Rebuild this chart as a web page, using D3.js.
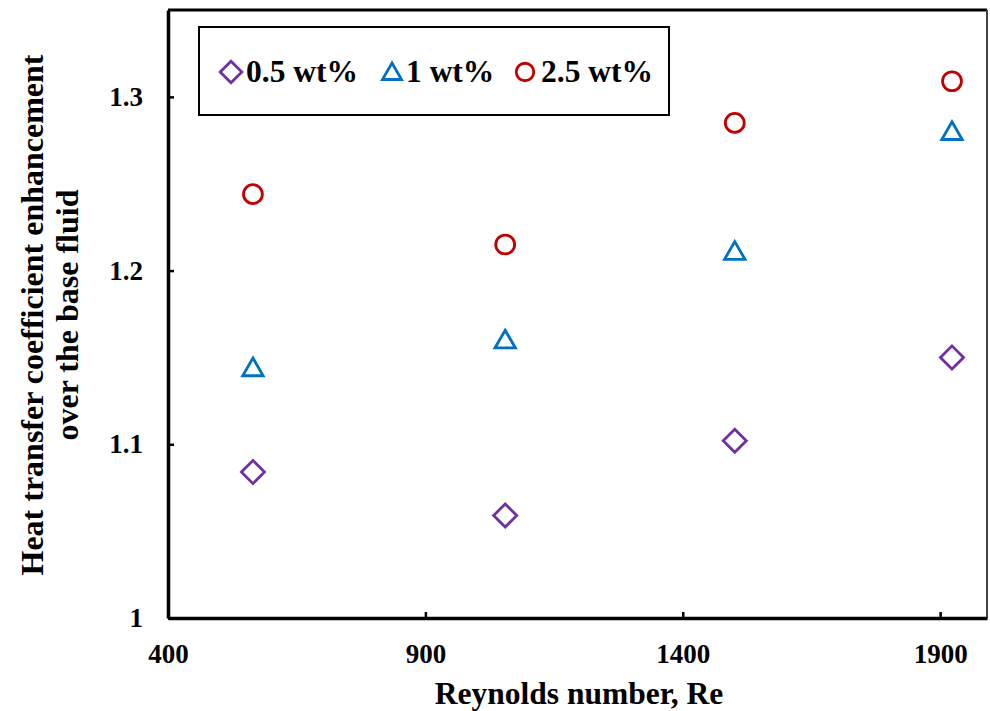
<!DOCTYPE html>
<html>
<head>
<meta charset="utf-8">
<script src="https://cdn.jsdelivr.net/npm/d3@7/dist/d3.min.js"></script>
<style>
  html, body { margin: 0; padding: 0; background: #fff; }
  svg { display: block; }
  text { font-family: "Liberation Serif", "Times New Roman", serif; font-weight: bold; fill: #000; }
</style>
</head>
<body>
<script>
const reynolds = [565, 1055, 1501, 1923];
const seriesNames = ["0.5 wt%", "1 wt%", "2.5 wt%"];
const wt05 = [1.084, 1.059, 1.102, 1.150];
const wt1 = [1.144, 1.160, 1.211, 1.280];
const wt25 = [1.244, 1.215, 1.285, 1.309];
const xTicks = [400, 900, 1400, 1900];
const yTicks = [1, 1.1, 1.2, 1.3];
const yTickLabels = ["1", "1.1", "1.2", "1.3"];

const W = 990, H = 711;
const pLeft = 168, pRight = 987, pTop = 10, pBottom = 618;

const svg = d3.select("body").append("svg").attr("width", W).attr("height", H);

const x = d3.scaleLinear().domain([400, 1991]).range([pLeft, pRight]);
const y = d3.scaleLinear().domain([1, 1.35]).range([pBottom, pTop]);

// frame
svg.append("line").attr("x1", pLeft).attr("x2", pRight).attr("y1", pTop).attr("y2", pTop)
  .attr("stroke", "#000").attr("stroke-width", 3);
svg.append("line").attr("x1", pRight).attr("x2", pRight).attr("y1", pTop).attr("y2", pBottom)
  .attr("stroke", "#444").attr("stroke-width", 2);

// axes
const xAxis = d3.axisBottom(x).tickValues(xTicks).tickSizeInner(-6).tickSizeOuter(0).tickPadding(26)
  .tickFormat(d3.format("d"));
const gx = svg.append("g").attr("transform", `translate(0,${pBottom})`).call(xAxis);
gx.select(".domain").attr("stroke", "#000").attr("stroke-width", 3.5);
gx.selectAll(".tick line").attr("stroke", "#000").attr("stroke-width", 2.5);
gx.selectAll(".tick text").attr("font-size", 27).attr("font-family", "Liberation Serif").attr("font-weight", "bold").attr("fill", "#000");

const yAxis = d3.axisLeft(y).tickValues(yTicks).tickSizeInner(-6).tickSizeOuter(0).tickPadding(25)
  .tickFormat((d, i) => yTickLabels[i]);
const gy = svg.append("g").attr("transform", `translate(${pLeft},0)`).call(yAxis);
gy.select(".domain").attr("stroke", "#000").attr("stroke-width", 3.5);
gy.selectAll(".tick line").attr("stroke", "#000").attr("stroke-width", 2.5);
gy.selectAll(".tick text").attr("font-size", 27).attr("font-family", "Liberation Serif").attr("font-weight", "bold").attr("fill", "#000");

// axis titles
svg.append("text").attr("x", 579).attr("y", 704).attr("text-anchor", "middle")
  .attr("font-size", 31.5).text("Reynolds number, Re");
const yt = svg.append("text").attr("transform", "translate(43,315) rotate(-90)")
  .attr("text-anchor", "middle").attr("font-size", 32);
yt.append("tspan").attr("x", 0).attr("dy", 0).text("Heat transfer coefficient enhancement");
yt.append("tspan").attr("x", 0).attr("dy", 35).text("over the base fluid");

// markers
const colors = ["#7030A0", "#0070C0", "#C00000"];
const shapes = [
  d3.symbol().type(d3.symbolDiamond2).size(340),
  d3.symbol().type(d3.symbolTriangle2).size(300),
  d3.symbol().type(d3.symbolCircle).size(280)
];
const allSeries = [wt05, wt1, wt25];
allSeries.forEach((vals, si) => {
  svg.append("g").selectAll("path").data(vals).join("path")
    .attr("transform", (d, i) => {
      const dy = si === 1 ? 2 : 0;
      return `translate(${x(reynolds[i])},${y(d) + dy})`;
    })
    .attr("d", shapes[si]())
    .attr("fill", "none").attr("stroke", colors[si]).attr("stroke-width", 2.8);
});

// legend
svg.append("rect").attr("x", 199).attr("y", 27).attr("width", 470).attr("height", 88)
  .attr("fill", "#fff").attr("stroke", "#000").attr("stroke-width", 2);
const legX = [231, 392, 525];
const legTX = [246, 406, 541];
seriesNames.forEach((name, si) => {
  svg.append("path").attr("transform", `translate(${legX[si]},${72 + (si === 1 ? 2 : 0)})`)
    .attr("d", d3.symbol().type([d3.symbolDiamond2, d3.symbolTriangle2, d3.symbolCircle][si]).size([300, 260, 240][si])())
    .attr("fill", "none").attr("stroke", colors[si]).attr("stroke-width", 2.8);
  svg.append("text").attr("x", legTX[si]).attr("y", 82).attr("font-size", 31.5).text(name);
});
</script>
</body>
</html>
